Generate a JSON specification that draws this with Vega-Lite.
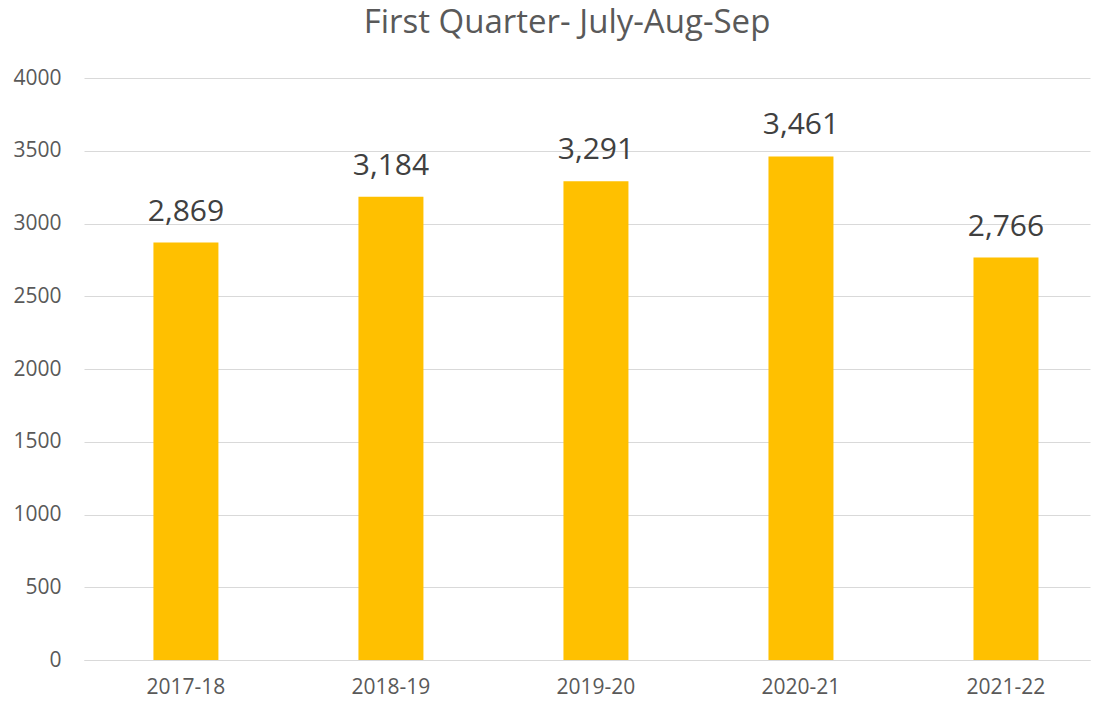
{
  "$schema": "https://vega.github.io/schema/vega-lite/v6.json",
  "autosize": {"type": "none"},
  "padding": {"left": 84, "top": 78, "right": 4, "bottom": 44},
  "width": 1006,
  "height": 582,
  "background": "white",
  "config": {"view": {"stroke": null}, "font": "Open Sans"},
  "title": {"text": "First Quarter- July-Aug-Sep", "fontSize": 33, "fontWeight": "normal", "color": "#595959", "font": "Open Sans", "offset": 27, "dx": -20, "anchor": "middle"},
  "data": {"values": [
    {"year": "2017-18", "value": 2869},
    {"year": "2018-19", "value": 3184},
    {"year": "2019-20", "value": 3291},
    {"year": "2020-21", "value": 3461},
    {"year": "2021-22", "value": 2766}
  ]},
  "encoding": {
    "x": {"field": "year", "type": "nominal", "sort": null,
      "scale": {"paddingInner": 0.683, "paddingOuter": 0.295, "align": 0.574},
      "axis": {"title": null, "labelAngle": 0, "labelFontSize": 21, "labelColor": "#595959", "labelFont": "Open Sans", "domain": true, "domainColor": "#d9d9d9", "ticks": false, "labelPadding": 16}},
    "y": {"field": "value", "type": "quantitative",
      "scale": {"domain": [0, 4000]},
      "axis": {"title": null, "values": [0,500,1000,1500,2000,2500,3000,3500,4000], "format": "d", "labelFontSize": 21, "labelColor": "#595959", "labelFont": "Open Sans", "domain": false, "ticks": false, "gridColor": "#d9d9d9", "gridWidth": 1, "labelPadding": 23}}
  },
  "layer": [
    {"mark": {"type": "bar", "color": "#FFC000"}},
    {"mark": {"type": "text", "dy": -16, "baseline": "bottom", "fontSize": 30, "color": "#404040", "font": "Open Sans"},
      "encoding": {"text": {"field": "value", "type": "quantitative", "format": ","}}}
  ]
}
